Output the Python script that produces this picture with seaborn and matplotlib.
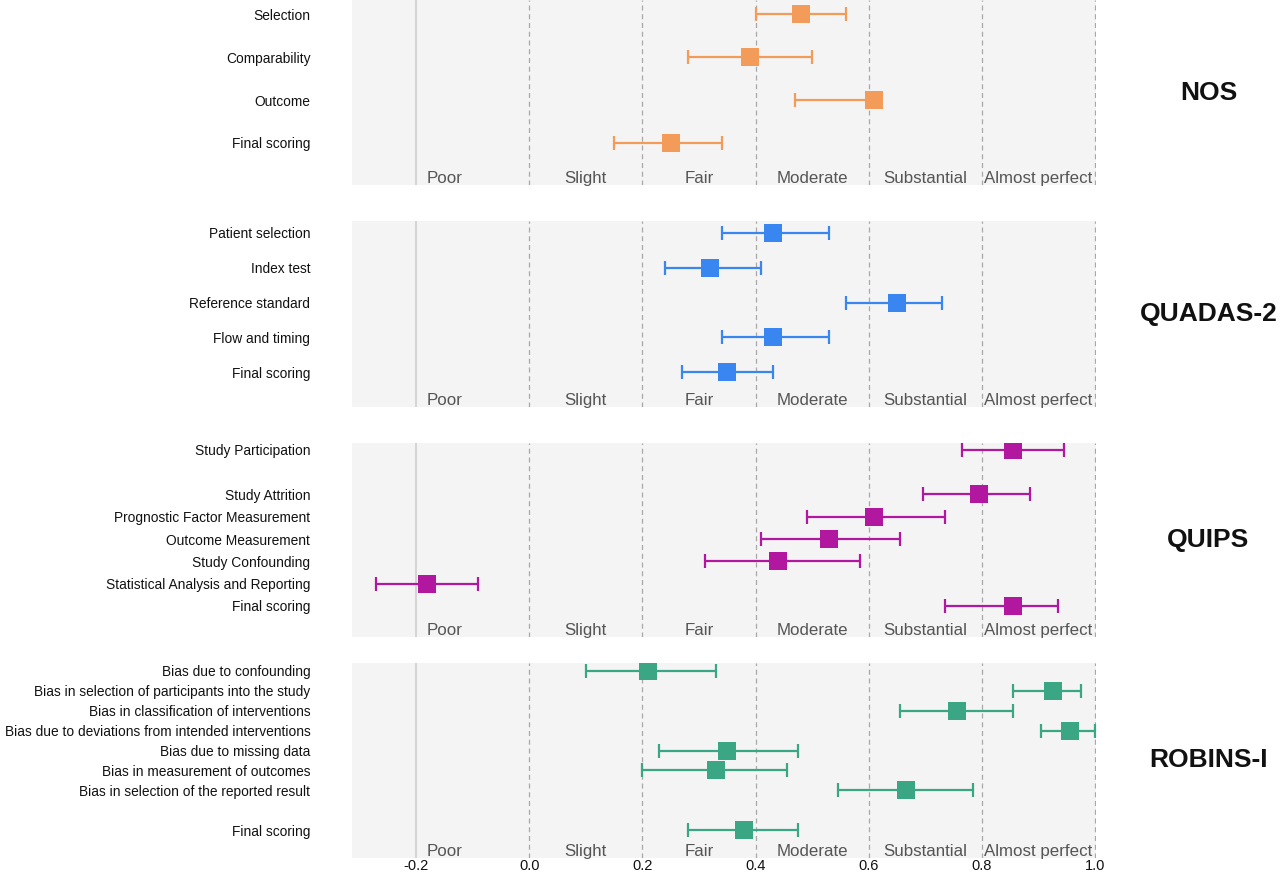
import matplotlib.pyplot as plt
import matplotlib.transforms as mtransforms
import pandas as pd
import seaborn as sns

# NOS
nos_items = ['Selection', 'Comparability', 'Outcome', 'Final scoring']
nos_est = [0.48, 0.39, 0.61, 0.25]
nos_low = [0.40, 0.28, 0.47, 0.15]
nos_high = [0.56, 0.50, 0.61, 0.34]

# QUADAS-2
quadas_items = ['Patient selection', 'Index test', 'Reference standard',
                'Flow and timing', 'Final scoring']
quadas_est = [0.43, 0.32, 0.65, 0.43, 0.35]
quadas_low = [0.34, 0.24, 0.56, 0.34, 0.27]
quadas_high = [0.53, 0.41, 0.73, 0.53, 0.43]

# QUIPS
quips_items = ['Study Participation', 'Study Attrition', 'Prognostic Factor Measurement',
               'Outcome Measurement', 'Study Confounding',
               'Statistical Analysis and Reporting', 'Final scoring']
quips_est = [0.855, 0.795, 0.61, 0.53, 0.44, -0.18, 0.855]
quips_low = [0.765, 0.695, 0.49, 0.41, 0.31, -0.27, 0.735]
quips_high = [0.945, 0.885, 0.735, 0.655, 0.585, -0.09, 0.935]

# ROBINS-I
robins_items = ['Bias due to confounding',
                'Bias in selection of participants into the study',
                'Bias in classification of interventions',
                'Bias due to deviations from intended interventions',
                'Bias due to missing data',
                'Bias in measurement of outcomes',
                'Bias in selection of the reported result',
                'Final scoring']
robins_est = [0.21, 0.925, 0.755, 0.955, 0.35, 0.33, 0.665, 0.38]
robins_low = [0.10, 0.855, 0.655, 0.905, 0.23, 0.20, 0.545, 0.28]
robins_high = [0.33, 0.975, 0.855, 1.0, 0.475, 0.455, 0.785, 0.475]

agreement = ['Poor', 'Slight', 'Fair', 'Moderate', 'Substantial', 'Almost perfect']
agreement_x = [-0.15, 0.1, 0.3, 0.5, 0.7, 0.9]
ticks = [-0.2, 0.0, 0.2, 0.4, 0.6, 0.8, 1.0]

panels = [
    ('NOS', nos_items, nos_est, nos_low, nos_high, '#F39C5A'),
    ('QUADAS-2', quadas_items, quadas_est, quadas_low, quadas_high, '#3A86F0'),
    ('QUIPS', quips_items, quips_est, quips_low, quips_high, '#B2179F'),
    ('ROBINS-I', robins_items, robins_est, robins_low, robins_high, '#3AA683'),
]

# layout: row slots, y-limits and axes boxes (figure fractions)
slots = [[1, 2, 3, 4], [1, 2, 3, 4, 5], [1, 3, 4, 5, 6, 7, 8], [1, 2, 3, 4, 5, 6, 7, 9]]
ylims = [(4.98, 0.67), (6.0, 0.655), (9.39, 0.69), (10.4, 0.6)]
boxes = [(0.275, 0.7878, 0.5815, 0.2122),
         (0.275, 0.5333, 0.5815, 0.2133),
         (0.275, 0.2695, 0.5815, 0.2225),
         (0.275, 0.0161, 0.5815, 0.2236)]

sns.set_theme(style='white')
plt.rcParams['font.family'] = ['Liberation Sans', 'DejaVu Sans']

fig = plt.figure(figsize=(12.8, 8.72), dpi=100)

for i, (name, items, est, low, high, color) in enumerate(panels):
    ax = fig.add_axes(boxes[i])
    ax.set_facecolor('#F4F4F4')
    for s in ax.spines.values():
        s.set_visible(False)

    df = pd.DataFrame({'item': items, 'est': est, 'low': low, 'high': high, 'y': slots[i]})

    for t in ticks:
        if t < 0:
            ax.axvline(t, color='#D2D2D2', lw=1.3, zorder=1)
        else:
            ax.axvline(t, color='#A8A8A8', lw=0.9, ls=(0, (4, 3)), zorder=1)

    ax.errorbar(df['est'], df['y'], xerr=[df['est'] - df['low'], df['high'] - df['est']],
                fmt='none', ecolor=color, elinewidth=1.6, capsize=5, capthick=1.6, zorder=2)
    sns.scatterplot(data=df, x='est', y='y', marker='s', s=150, color=color,
                    linewidth=0, ax=ax, zorder=3, legend=False)

    ax.set_xlim(-0.313, 1.002)
    ax.set_ylim(*ylims[i])
    ax.set_yticks(df['y'])
    ax.set_yticklabels(items, fontsize=9.9, color='#111111')
    ax.tick_params(axis='y', length=0, pad=30)
    ax.set_xlabel('')
    ax.set_ylabel('')

    trans = mtransforms.blended_transform_factory(ax.transData, ax.transAxes)
    for lab, xx in zip(agreement, agreement_x):
        ax.text(xx, 0.012, lab, transform=trans, ha='center', va='baseline',
                fontsize=12.2, color='#555555')

    ax.text(1.2, 0.5, name, transform=trans, ha='center', va='center',
            fontsize=19, fontweight='bold', color='#111111')

    if i == len(panels) - 1:
        ax.set_xticks(ticks)
        ax.set_xticklabels([f'{t:.1f}' for t in ticks], fontsize=10.5, color='#111111')
        ax.tick_params(axis='x', length=0, pad=1)
    else:
        ax.set_xticks([])

fig.savefig('out.png', dpi=100)
